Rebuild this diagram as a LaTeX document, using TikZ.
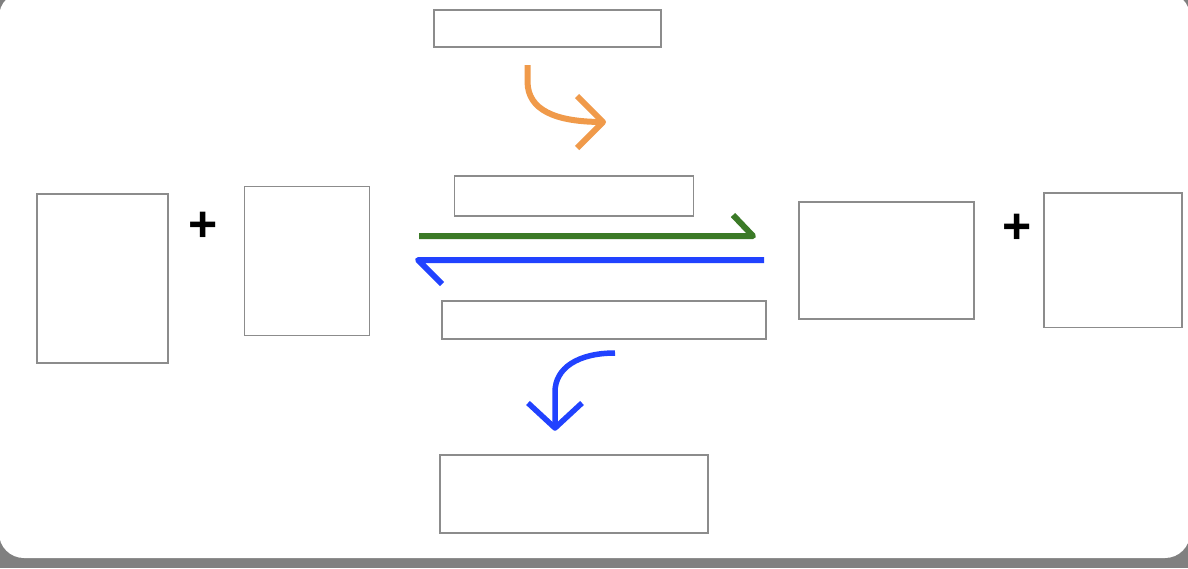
\documentclass[tikz,border=0pt]{standalone}
\usepackage{fontspec}
\setmainfont{Liberation Sans}
\definecolor{bggray}{HTML}{808080}
\definecolor{boxline}{HTML}{8C8C8C}
\definecolor{eqgreen}{HTML}{3B7A27}
\definecolor{eqblue}{HTML}{2142FF}
\definecolor{eqorange}{HTML}{F09A4A}
\begin{document}
\begin{tikzpicture}[x=1pt,y=-1pt,
  blank/.style={draw=boxline,line width=1.5pt,fill=white,inner sep=0pt,anchor=north west},
  plussign/.style={inner sep=0pt,anchor=base,font=\bfseries\fontsize{50}{50}\selectfont},
  stroke/.style={line width=6pt,line cap=butt,line join=round}]
\useasboundingbox (0,0) rectangle (1188,568);
\fill[bggray] (0,0) rectangle (1188,568);
\fill[white,rounded corners=25pt] (-1,-8) rectangle (1190,558);
% boxes
\node[blank,minimum width=131pt,minimum height=169pt] (r1) at (36,193) {};
\node[blank,minimum width=125pt,minimum height=149pt] (r2) at (243.5,185.5) {};
\node[blank,minimum width=175pt,minimum height=117pt] (p1) at (798,201) {};
\node[blank,minimum width=138pt,minimum height=134.5pt] (p2) at (1043,192) {};
\node[blank,minimum width=227pt,minimum height=37pt] (top) at (433,9) {};
\node[blank,minimum width=239pt,minimum height=40pt] (fwd) at (453.5,175) {};
\node[blank,minimum width=324pt,minimum height=38pt] (rev) at (441,300) {};
\node[blank,minimum width=268pt,minimum height=78pt] (bot) at (439,454) {};
% plus signs
\node[plussign] (plusA) at (203,241) {+};
\node[plussign] (plusB) at (1017.5,243) {+};
% coordinates for arrows
\coordinate (gS) at (419,236);
\coordinate (gE) at (753,236);
\coordinate (gB) at (733,215);
\coordinate (bS) at (764,260);
\coordinate (bE) at (418,260);
\coordinate (bB) at (442,284);
\coordinate (oS) at (527.5,65);
\coordinate (oM) at (527.5,82);
\coordinate (oE) at (603,122);
\coordinate (oB1) at (577,96);
\coordinate (oB2) at (577,148);
\coordinate (cS) at (615,353);
\coordinate (cM) at (555,392);
\coordinate (cE) at (555,428);
\coordinate (cB1) at (528,403);
\coordinate (cB2) at (582,403);
% equilibrium harpoons
\draw[stroke,eqgreen] (gS) -- (gE) -- (gB);
\draw[stroke,eqblue] (bS) -- (bE) -- (bB);
% curved arrows
\draw[stroke,eqorange] (oS) -- (oM) .. controls (528,110) and (555,122) .. (oE);
\draw[stroke,eqorange] (oB1) -- (oE) -- (oB2);
\draw[stroke,eqblue,line width=5.5pt] (cS) .. controls (578,353) and (555,368) .. (cM) -- (cE);
\draw[stroke,eqblue,line width=5.5pt] (cB1) -- (cE) -- (cB2);
\end{tikzpicture}
\end{document}
